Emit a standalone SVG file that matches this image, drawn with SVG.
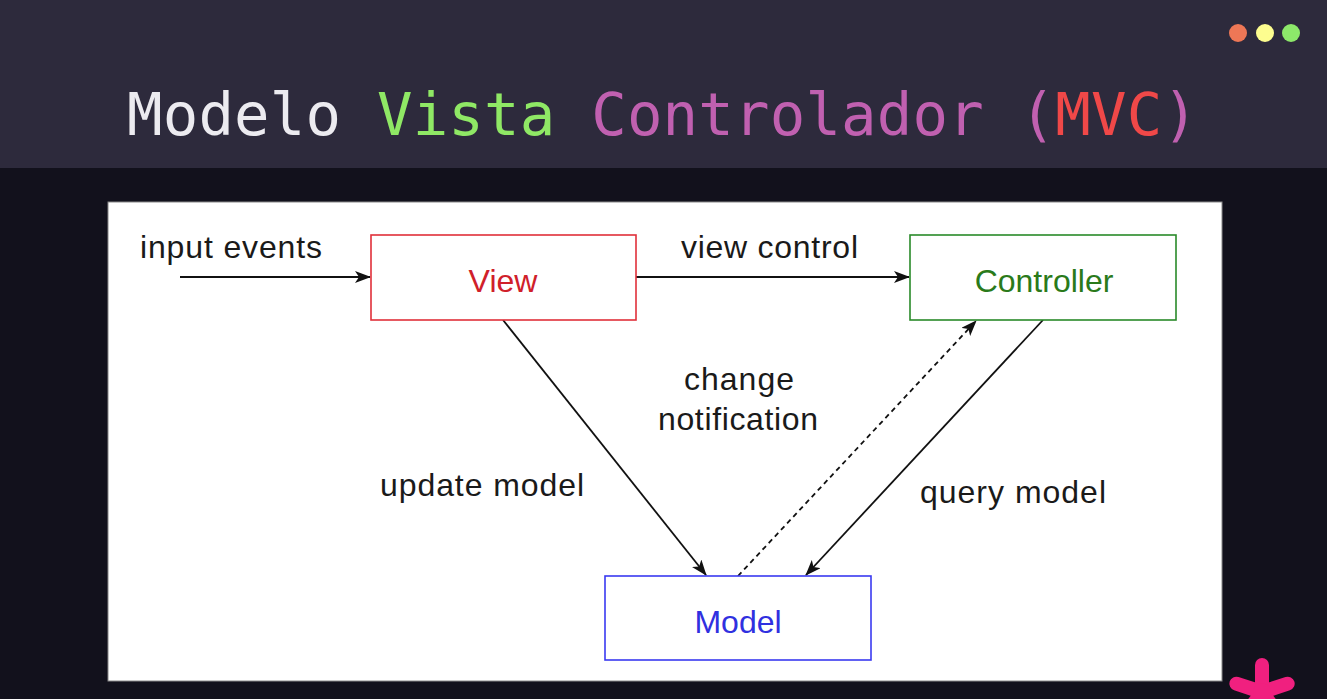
<svg xmlns="http://www.w3.org/2000/svg" width="1327" height="699" viewBox="0 0 1327 699">
<style>
.lbl{font-family:"Liberation Sans",Arial,sans-serif;font-size:32px;fill:#1a1a1a}
.ttl{font-family:"DejaVu Sans Mono",monospace;font-size:59px}
.edge{stroke:#111;stroke-width:1.8;fill:none}
.box{fill:#fff;stroke-width:1.6}
</style>
<defs>
<marker id="arr" viewBox="0 0 16 12" refX="15" refY="6" markerWidth="16" markerHeight="12" markerUnits="userSpaceOnUse" orient="auto">
<path d="M0,0 L16,6 L0,12 L4,6 Z" fill="#111"/>
</marker>
</defs>
<rect x="0" y="0" width="1327" height="699" fill="#12111c"/>
<rect x="0" y="0" width="1327" height="168" fill="#2d2a3c"/>
<g id="dots">
<circle cx="1238" cy="33" r="9" fill="#ee7756"/>
<circle cx="1265" cy="33" r="9" fill="#fdfd8f"/>
<circle cx="1291" cy="33" r="9" fill="#8de86a"/>
</g>
<text class="ttl" x="127" y="135" textLength="1071" lengthAdjust="spacing"><tspan fill="#ecebf0">Modelo </tspan><tspan fill="#8fe865">Vista </tspan><tspan fill="#c060b0">Controlador (</tspan><tspan fill="#f04848">MVC</tspan><tspan fill="#c060b0">)</tspan></text>
<rect x="108" y="202" width="1114" height="479" fill="#fff" stroke="#888" stroke-width="1"/>
<g id="connectors">
<line class="edge" x1="180" y1="277" x2="370" y2="277" marker-end="url(#arr)"/>
<line class="edge" x1="636" y1="277" x2="909" y2="277" marker-end="url(#arr)"/>
<line class="edge" x1="503" y1="320" x2="706" y2="575" marker-end="url(#arr)"/>
<line class="edge" x1="1043" y1="320" x2="806" y2="575" marker-end="url(#arr)"/>
<line class="edge" x1="738" y1="576" x2="976" y2="321" stroke-dasharray="5,4" marker-end="url(#arr)"/>
<text class="lbl" x="140" y="258" textLength="182">input events</text>
<text class="lbl" x="681" y="258" textLength="177">view control</text>
<text class="lbl" x="684" y="390" textLength="110">change</text>
<text class="lbl" x="658" y="430" textLength="160">notification</text>
<text class="lbl" x="380" y="496" textLength="204">update model</text>
<text class="lbl" x="920" y="503" textLength="186">query model</text>
</g>
<g id="view">
<rect class="box" x="371" y="235" width="265" height="85" stroke="#e0303a"/>
<text class="lbl" x="503" y="292" text-anchor="middle" style="fill:#d0202a">View</text>
</g>
<g id="controller">
<rect class="box" x="910" y="235" width="266" height="85" stroke="#2a8a2a"/>
<text class="lbl" x="1044" y="292" text-anchor="middle" style="fill:#2a7a1a">Controller</text>
</g>
<g id="model">
<rect class="box" x="605" y="576" width="266" height="84" stroke="#3a3af0"/>
<text class="lbl" x="738" y="633" text-anchor="middle" style="fill:#3030e0">Model</text>
</g>
<g id="asterisk" fill="#f0207f">
<g transform="translate(1262,692)">
<rect x="-7" y="-34" width="14" height="32" rx="7"/>
<rect x="-7" y="-34" width="14" height="32" rx="7" transform="rotate(72)"/>
<rect x="-7" y="-34" width="14" height="32" rx="7" transform="rotate(144)"/>
<rect x="-7" y="-34" width="14" height="32" rx="7" transform="rotate(216)"/>
<rect x="-7" y="-34" width="14" height="32" rx="7" transform="rotate(288)"/>
<circle r="9"/>
</g>
</g>
</svg>
